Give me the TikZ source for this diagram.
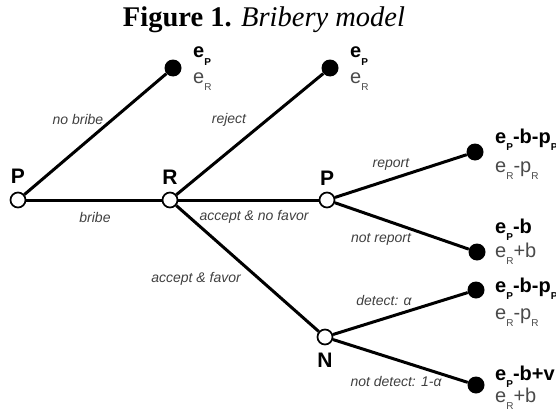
\documentclass[tikz,border=0pt]{standalone}
\usepackage{fontspec}
\setmainfont{Liberation Sans}
\newfontfamily\titlefont{Liberation Serif}
\usetikzlibrary{positioning}

\definecolor{actgray}{HTML}{404040}
\definecolor{paygray}{HTML}{4a4a4a}
\newcommand{\idx}[1]{\raisebox{-7pt}{\fontsize{10}{10}\selectfont #1}}

\tikzset{
  dec/.style={circle, draw=black, fill=white, line width=1.7pt, minimum size=15pt, inner sep=0pt},
  term/.style={circle, fill=black, minimum size=17pt, inner sep=0pt},
  branch/.style={line width=3pt},
  act/.style={font=\fontsize{14}{14}\selectfont\itshape, text=actgray, inner sep=0pt},
  who/.style={font=\fontsize{21}{21}\selectfont\bfseries, inner sep=0pt},
  payP/.style={font=\fontsize{20}{20}\selectfont\bfseries, anchor=base west, inner sep=0pt},
  payR/.style={font=\fontsize{20}{20}\selectfont, text=paygray, anchor=base west, inner sep=0pt},
}

\begin{document}
\begin{tikzpicture}[x=1pt,y=-1pt]
  \useasboundingbox (0,0) rectangle (556,412);

  %% title
  \node[font=\titlefont\fontsize{28.5}{29}\selectfont, anchor=base, inner sep=0pt] (title) at (264,27)
    {\textbf{Figure 1.} \textit{Bribery model}};

  %% decision nodes
  \node[dec, label={[who, label distance=8pt]above:P}] (P1) at (18,200) {};
  \node[dec, label={[who, label distance=7pt]above:R}] (R) at (170,200) {};
  \node[dec, label={[who, label distance=6pt]above:P}] (P2) at (327,200) {};
  \node[dec, label={[who, label distance=7pt]below:N}] (N) at (325,337) {};

  %% end nodes
  \node[term] (T1) at (173,68) {};
  \node[term] (T2) at (330,68) {};
  \node[term] (T3) at (475,152) {};
  \node[term] (T4) at (477,252) {};
  \node[term] (T5) at (476,290) {};
  \node[term] (T6) at (476,385) {};

  %% branches
  \draw[branch] (P1) -- (T1);
  \draw[branch] (P1) -- (R);
  \draw[branch] (R) -- (T2);
  \draw[branch] (R) -- (P2);
  \draw[branch] (R) -- (N);
  \draw[branch] (P2) -- (T3);
  \draw[branch] (P2) -- (T4);
  \draw[branch] (N) -- (T5);
  \draw[branch] (N) -- (T6);

  %% actions
  \node[act] (noBribe) at (78,119) {no bribe};
  \node[act] (bribe) at (95,217) {bribe};
  \node[act] (reject) at (229,120) {reject};
  \node[act] (noFavor) at (254,217) {accept \& no favor};
  \node[act] (favor) at (196,279) {accept \& favor};
  \node[act] (report) at (391,164) {report};
  \node[act] (noReport) at (381,239) {not report};
  \node[act] (detect) at (384,300) {detect: α};
  \node[act] (noDetect) at (396,381) {not detect: 1-α};

  %% payoffs
  \node[payP] (pay1P) at (193,58) {e\idx{P}};
  \node[payR] (pay1R) at (193,83) {e\idx{R}};
  \node[payP] (pay2P) at (350,58) {e\idx{P}};
  \node[payR] (pay2R) at (350,83) {e\idx{R}};
  \node[payP] (pay3P) at (495,143) {e\idx{P}-b-p\idx{P}};
  \node[payR] (pay3R) at (495,172) {e\idx{R}-p\idx{R}};
  \node[payP] (pay4P) at (495,233) {e\idx{P}-b};
  \node[payR] (pay4R) at (495,257) {e\idx{R}+b};
  \node[payP] (pay5P) at (495,292) {e\idx{P}-b-p\idx{P}};
  \node[payR] (pay5R) at (495,319) {e\idx{R}-p\idx{R}};
  \node[payP] (pay6P) at (495,380) {e\idx{P}-b+v};
  \node[payR] (pay6R) at (495,402) {e\idx{R}+b};
\end{tikzpicture}
\end{document}
